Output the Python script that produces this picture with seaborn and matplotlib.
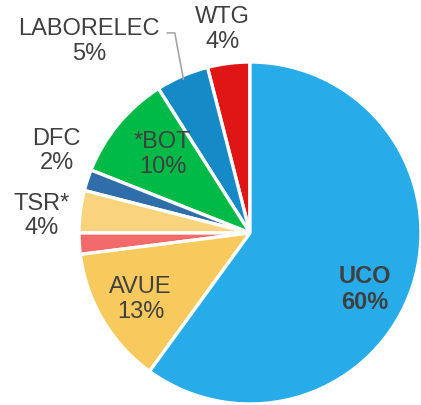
import numpy as np
import matplotlib
matplotlib.use("Agg")
import matplotlib.pyplot as plt
import seaborn as sns

# Data (counter-clockwise from the top)
labels = ["WTG", "LABORELEC", "*BOT", "DFC", "TSR*", "", "AVUE", "UCO"]
shares = [4, 5, 10, 2, 4, 2, 13, 60]
colors = ["#E01616", "#168AC7", "#00BA47", "#2F6EA8", "#FAD47D",
          "#F26A6A", "#F8CA5E", "#27ACE9"]

# label placement in pie units (x, y), None = no label
label_pos = [(-0.16, 1.19), (-0.94, 1.12), (-0.51, 0.46), (-1.13, 0.48),
             (-1.22, 0.1), None, (-0.64, -0.39), (0.67, -0.33)]

sns.set_theme(style="white")
plt.rcParams["font.family"] = ["Liberation Sans", "DejaVu Sans"]

fig = plt.figure(figsize=(4.21, 4.05), dpi=100)
W, H = 421, 405
cx, cy, r = 250, 233, 171
ax = fig.add_axes([(cx - r) / W, (H - cy - r) / H, 2 * r / W, 2 * r / H])

wedges, _ = ax.pie(shares, colors=colors, startangle=90, counterclock=True,
                   radius=1, wedgeprops=dict(edgecolor="white", linewidth=2.4))

for i, (w, lab, pos) in enumerate(zip(wedges, labels, label_pos)):
    if pos is None:
        continue
    bold = lab == "UCO"
    ax.text(pos[0], pos[1], f"{lab}\n{shares[i]}%", ha="center", va="center",
            fontsize=17, color="#404040", linespacing=1.15,
            fontweight="bold" if bold else "normal")

# leader line for LABORELEC
w = wedges[1]
mid = np.deg2rad((w.theta1 + w.theta2) / 2)
ex, ey = 0.98 * np.cos(mid), 0.98 * np.sin(mid)
ax.plot([-0.485, -0.44, ex], [1.17, 1.17, ey], color="#A6A6A6", lw=1.2,
        clip_on=False)

ax.set_xlim(-1, 1)
ax.set_ylim(-1, 1)
ax.set_aspect("equal")
ax.axis("off")

fig.savefig("out.png", dpi=100)
